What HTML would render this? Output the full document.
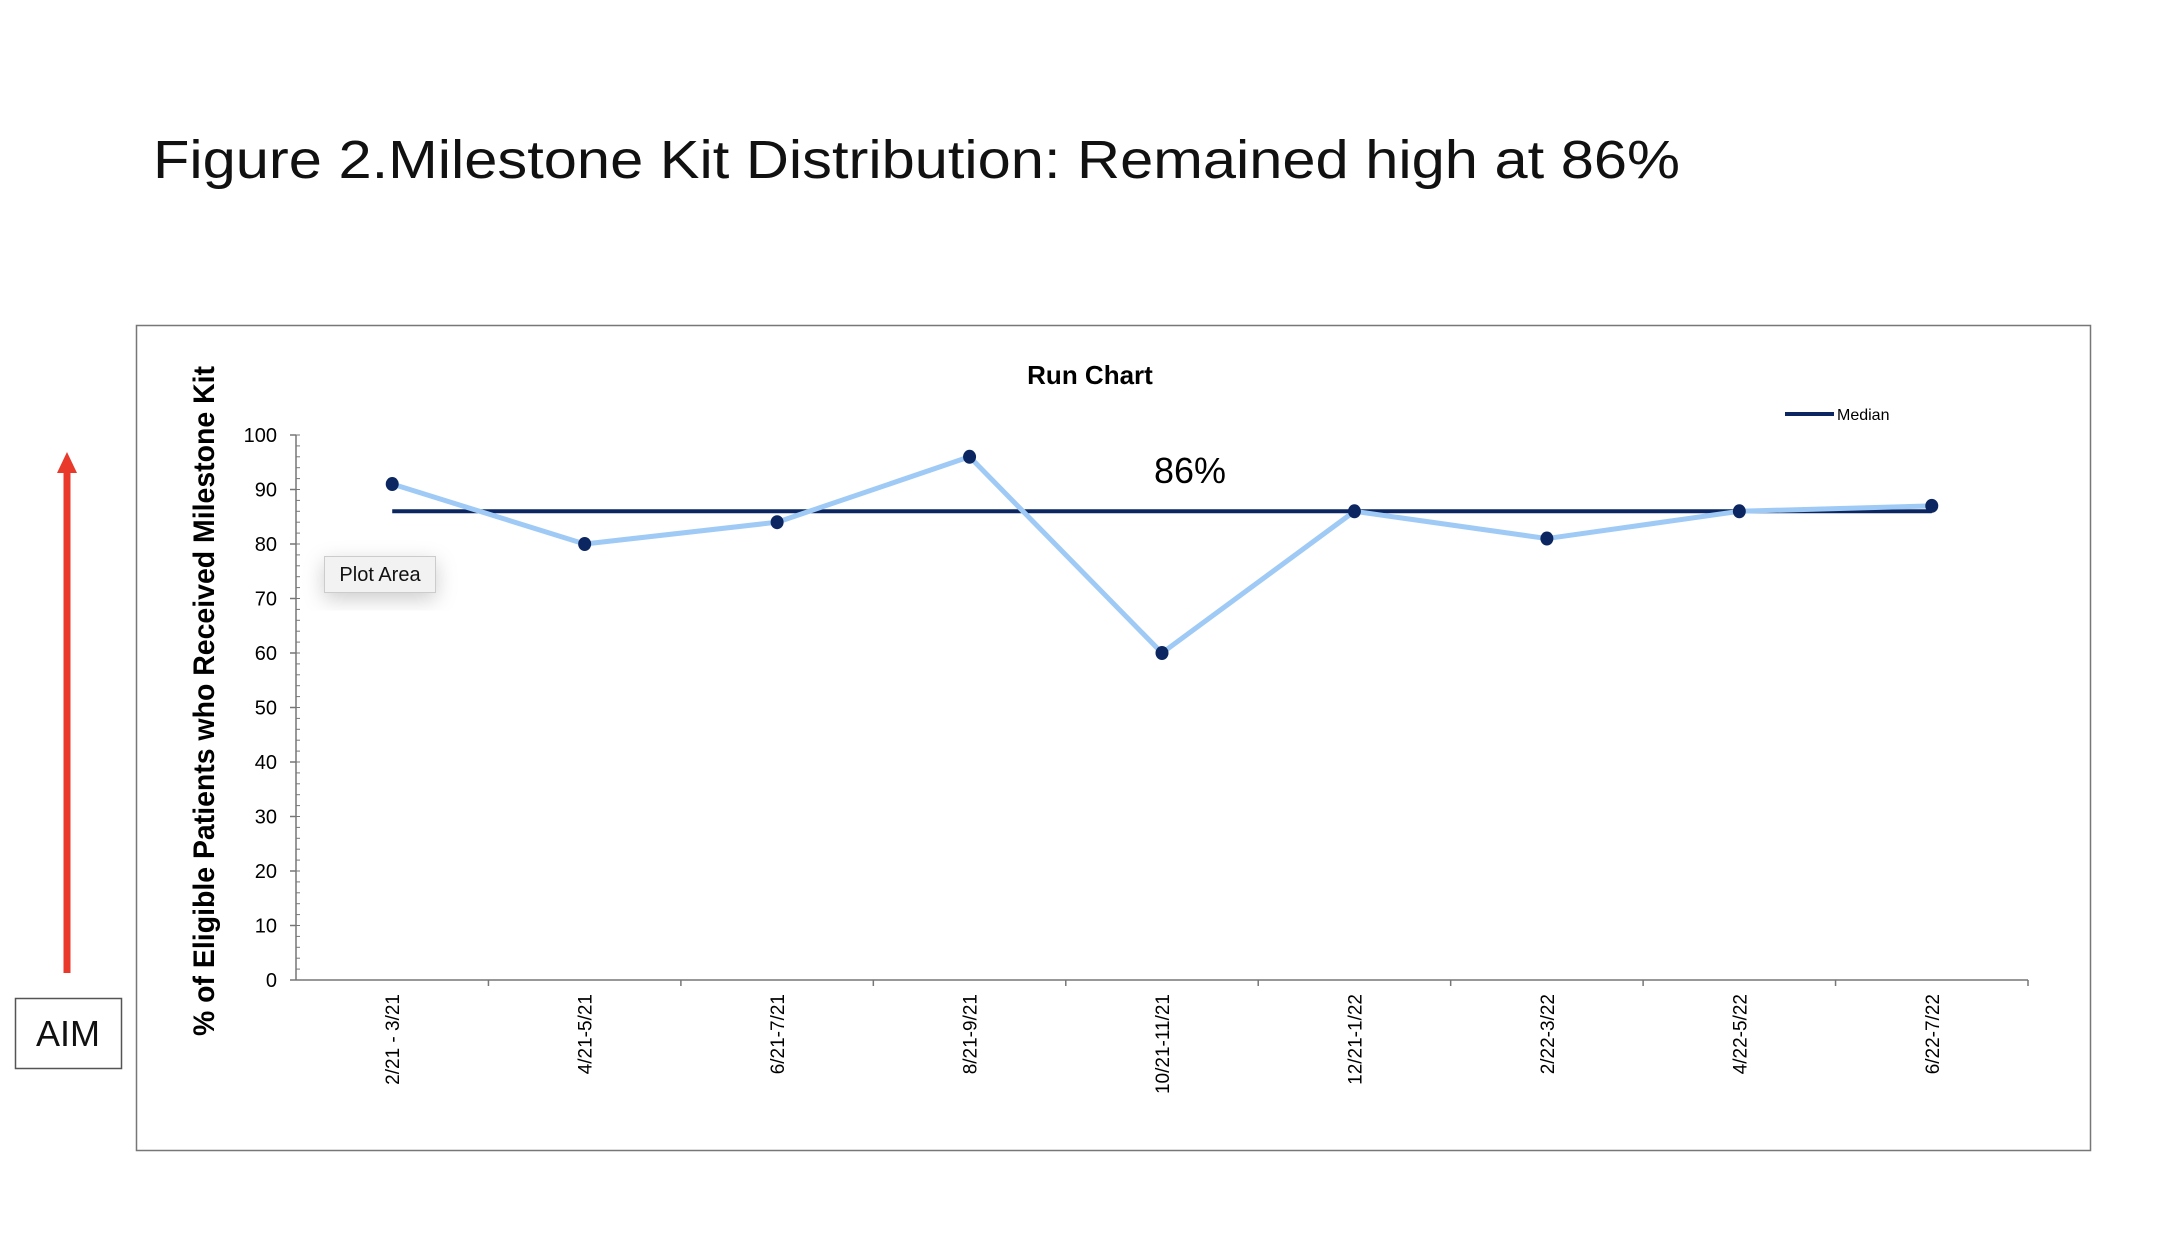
<!DOCTYPE html>
<html><head><meta charset="utf-8"><style>
body{margin:0;background:#fff;width:2180px;height:1232px;overflow:hidden;font-family:"Liberation Sans",sans-serif}
</style></head><body>
<svg width="2180" height="1232" viewBox="0 0 2180 1232" xmlns="http://www.w3.org/2000/svg">
<defs><filter id="sh" x="-50%" y="-50%" width="200%" height="200%"><feDropShadow dx="0" dy="6" stdDeviation="10" flood-color="#000" flood-opacity="0.2"/></filter></defs>
<text x="153" y="178" font-family="Liberation Sans, sans-serif" font-size="54" fill="#111" textLength="1527" lengthAdjust="spacingAndGlyphs">Figure 2.Milestone Kit Distribution: Remained high at 86%</text>
<rect x="63.5" y="470" width="7" height="503" fill="#e8392b"/>
<polygon points="57,473 77,473 67,452" fill="#e8392b"/>
<rect x="15.5" y="998.5" width="106" height="70" fill="#fff" stroke="#555" stroke-width="1.5"/>
<text x="68" y="1046" text-anchor="middle" font-size="36" fill="#111">AIM</text>
<rect x="136.5" y="325.5" width="1954" height="825" fill="#fff" stroke="#777" stroke-width="1.5"/>
<g id="chart"></g>
</svg>
<script>
const categories=["2/21 - 3/21","4/21-5/21","6/21-7/21","8/21-9/21","10/21-11/21","12/21-1/22","2/22-3/22","4/22-5/22","6/22-7/22"];
const values=[91,80,84,96,60,86,81,86,87];
const medianValue=[86];
const yTicks=[0,10,20,30,40,50,60,70,80,90,100];
const NS="http://www.w3.org/2000/svg";
const g=document.getElementById('chart');
const X0=296,X1=2028,Y0=980,Y1=435,YMAX=100;
const bw=(X1-X0)/categories.length;
const xs=i=>X0+(i+0.5)*bw;
const ys=v=>Y0-(v/YMAX)*(Y0-Y1);
function mk(t,a,txt){const e=document.createElementNS(NS,t);for(const k in a)e.setAttribute(k,a[k]);if(txt!==undefined)e.textContent=txt;g.appendChild(e);return e;}
let e;
e=mk('text',{x:1090,y:384,'text-anchor':'middle','font-size':26,'font-weight':'bold',fill:'#000'},'Run Chart');


e=mk('text',{x:0,y:0,'text-anchor':'middle','font-size':30,'font-weight':'bold',fill:'#000',transform:'translate(214,701) rotate(-90)',textLength:670,lengthAdjust:'spacingAndGlyphs'},'% of Eligible Patients who Received Milestone Kit');


e=mk('line',{x1:X0,y1:Y1,x2:X0,y2:Y0,stroke:'#777','stroke-width':1.5});


e=mk('line',{x1:X0,y1:Y0,x2:X1,y2:Y0,stroke:'#777','stroke-width':1.5});


for(let v=0;v<=YMAX;v+=2){
 e=mk('line',{x1:X0,y1:ys(v),x2:X0+4,y2:ys(v),stroke:'#777','stroke-width':1});
 
 
}
yTicks.forEach(v=>{
 e=mk('line',{x1:X0-6,y1:ys(v),x2:X0,y2:ys(v),stroke:'#777','stroke-width':1.5});
 
 
 e=mk('text',{x:277,y:ys(v)+7,'text-anchor':'end','font-size':20,fill:'#000'},String(v));
 
 
});
for(let i=1;i<=categories.length;i++){
 e=mk('line',{x1:X0+i*bw,y1:Y0,x2:X0+i*bw,y2:Y0+6,stroke:'#777','stroke-width':1.5});
 
 
}
categories.forEach((c,i)=>{
 e=mk('text',{x:0,y:0,'text-anchor':'end','font-size':19,fill:'#000',transform:`translate(${xs(i)+7},${Y0+14}) rotate(-90)`},c);
 
 
});
e=mk('line',{x1:xs(0),y1:ys(medianValue[0]),x2:xs(categories.length-1),y2:ys(medianValue[0]),stroke:'#0b2660','stroke-width':4});


e=mk('polyline',{points:values.map((v,i)=>xs(i)+','+ys(v)).join(' '),fill:'none',stroke:'#9fcaf6','stroke-width':5,'stroke-linejoin':'round'});


values.forEach((v,i)=>{
 e=mk('ellipse',{cx:xs(i),cy:ys(v),rx:6.5,ry:7,fill:'#0b2660'});
 
 
});
e=mk('text',{x:1190,y:483,'text-anchor':'middle','font-size':36,fill:'#000',textLength:72,lengthAdjust:'spacingAndGlyphs'},medianValue[0]+'%');


e=mk('line',{x1:1785,y1:414,x2:1834,y2:414,stroke:'#0b2660','stroke-width':4});


e=mk('text',{x:1837,y:420,'font-size':16,fill:'#000'},'Median');


e=mk('rect',{x:324.5,y:556.5,width:111,height:36,fill:'#f2f2f2',stroke:'#ccc','stroke-width':1,filter:'url(#sh)'});


e=mk('text',{x:380,y:581,'text-anchor':'middle','font-size':20,fill:'#111'},'Plot Area');


</script>
</body></html>
